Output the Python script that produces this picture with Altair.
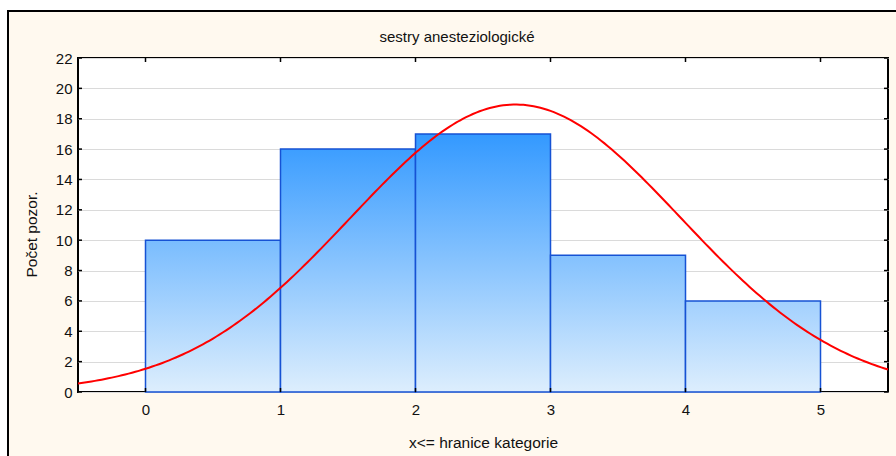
import altair as alt
import numpy as np
import pandas as pd

# Histogram: category boundaries and counts
bin_lo = [0, 1, 2, 3, 4]
bin_hi = [1, 2, 3, 4, 5]
counts = [10, 16, 17, 9, 6]

y_ticks = [0, 2, 4, 6, 8, 10, 12, 14, 16, 18, 20, 22]
x_ticks = [0, 1, 2, 3, 4, 5]

title_text = "sestry anesteziologické"
x_title = "x<= hranice kategorie"
y_title = "Počet pozor."

W, H = 810, 334
FONT = "Liberation Sans"
X_DOM = [-0.5, 5.5]
Y_DOM = [0, 22]

bars = pd.DataFrame({"lo": bin_lo, "hi": bin_hi, "n": counts})

# Fitted normal curve (values are the upper category boundaries)
vals = np.repeat(bin_hi, counts)
mu, sd, total = vals.mean(), vals.std(ddof=1), len(vals)
xs = np.linspace(X_DOM[0], X_DOM[1], 241)
curve = pd.DataFrame({
    "x": xs,
    "y": total * np.exp(-0.5 * ((xs - mu) / sd) ** 2) / (sd * np.sqrt(2 * np.pi)),
})

xs_scale = alt.Scale(domain=X_DOM, nice=False, zero=False)
ys_scale = alt.Scale(domain=Y_DOM, nice=False)

x_axis = alt.Axis(values=x_ticks, grid=False, domain=False, ticks=False,
                  labelPadding=10, labelFontSize=15, labelFont=FONT,
                  labelColor="#111", title=x_title,
                  titleFont=FONT, titleFontSize=15.5, titleFontWeight="normal",
                  titleColor="#111", titleY=50, titleBaseline="middle")
y_axis = alt.Axis(values=y_ticks, grid=True, gridColor="#dadada", gridWidth=1,
                  domain=False, ticks=False, labelPadding=6,
                  labelFontSize=15, labelFont=FONT, labelColor="#111",
                  title=y_title, titleFont=FONT, titleFontSize=15.5,
                  titleFontWeight="normal", titleColor="#111",
                  titleAngle=270, titleX=-47, titleY=176,
                  titleBaseline="middle", titleAlign="center")


def X(field):
    return alt.X(field, type="quantitative", scale=xs_scale, axis=x_axis)


def Y(field):
    return alt.Y(field, type="quantitative", scale=ys_scale, axis=y_axis)


# Vertical blue gradient shared by all bars (darkest at the tallest bar)
top_rgb = np.array([51, 153, 255])
bot_rgb = np.array([222, 238, 253])
vmax = max(counts)


def bar_fill(v):
    c = bot_rgb + (top_rgb - bot_rgb) * (v / vmax)
    hexc = "#%02x%02x%02x" % tuple(int(round(t)) for t in c)
    return alt.Gradient(
        gradient="linear", x1=0, y1=0, x2=0, y2=1,
        stops=[alt.GradientStop(color=hexc, offset=0),
               alt.GradientStop(color="#ddeefd", offset=1)],
    )


one = alt.Data(values=[{}])

# Outer frame of the graph window
margin_top = alt.Chart(one).mark_rect(fill="white").encode(
    x=alt.value(-100), x2=alt.value(W + 50), y=alt.value(-80), y2=alt.value(-47))
margin_left = alt.Chart(one).mark_rect(fill="white").encode(
    x=alt.value(-100), x2=alt.value(-70), y=alt.value(-80), y2=alt.value(H + 100))
frame = alt.Chart(one).mark_rect(fillOpacity=0, stroke="black", strokeWidth=2).encode(
    x=alt.value(-70), x2=alt.value(W + 50), y=alt.value(-47), y2=alt.value(H + 100))
title = alt.Chart(one).mark_text(font=FONT, fontSize=15, color="#111",
                                 align="center", baseline="middle").encode(
    x=alt.value(379), y=alt.value(-21), text=alt.value(title_text))

bar_layers = [
    alt.Chart(bars).transform_filter(alt.datum.lo == bin_lo[i])
    .mark_rect(fill=bar_fill(v), stroke="#1652d4", strokeWidth=1.5)
    .encode(x=X("lo"), x2="hi:Q", y=Y("n"), y2=alt.datum(0))
    for i, v in enumerate(counts)
]

line = alt.Chart(curve).mark_line(color="#ff0000", strokeWidth=2).encode(
    x=X("x"), y=Y("y"))

# Inward tick marks on all four sides
yt = pd.DataFrame({"t": y_ticks})
xt = pd.DataFrame({"t": x_ticks})
tick_style = dict(color="black", strokeWidth=1.5)
left_ticks = alt.Chart(yt).mark_rule(**tick_style).encode(
    y=Y("t"), x=alt.value(0), x2=alt.value(4))
right_ticks = alt.Chart(yt).mark_rule(**tick_style).encode(
    y=Y("t"), x=alt.value(W - 4), x2=alt.value(W))
bottom_ticks = alt.Chart(xt).mark_rule(**tick_style).encode(
    x=X("t"), y=alt.value(H - 4), y2=alt.value(H))
top_ticks = alt.Chart(xt).mark_rule(**tick_style).encode(
    x=X("t"), y=alt.value(0), y2=alt.value(4))

chart = alt.layer(
    margin_top, margin_left, frame, title, *bar_layers, line,
    left_ticks, right_ticks, bottom_ticks, top_ticks,
).properties(
    width=W, height=H,
    autosize=alt.AutoSizeParams(type="none"),
    padding={"left": 78, "top": 58, "right": 8, "bottom": 64},
    background="#fff9ef",
).configure_view(
    fill="white", stroke="black", strokeWidth=2,
)

chart.save("out.html", embed_options={"renderer": "svg", "actions": False})
